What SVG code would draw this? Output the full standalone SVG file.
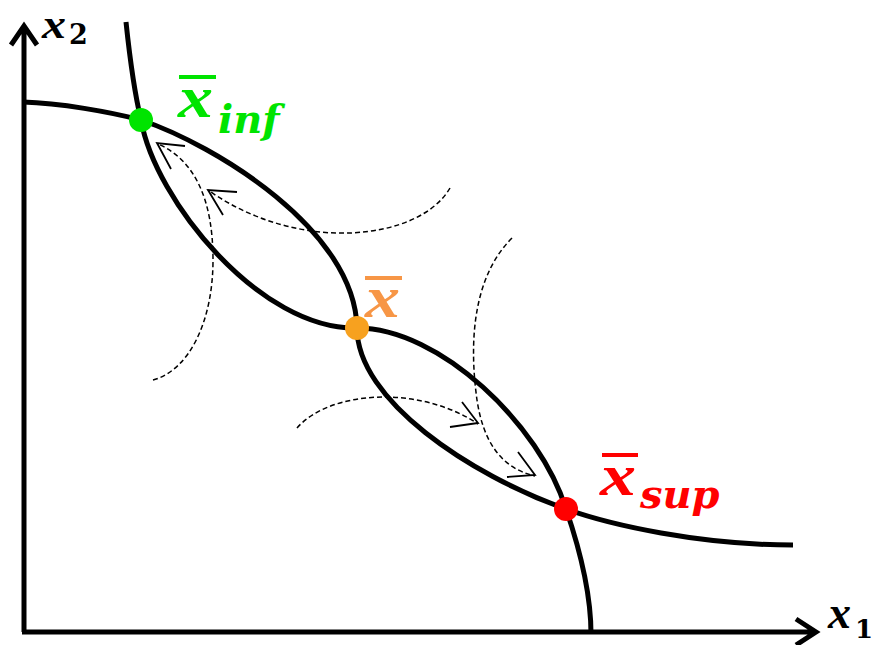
<svg xmlns="http://www.w3.org/2000/svg" width="873" height="645" viewBox="0 0 873 645">
<style>
.ax{fill:none;stroke:#000;stroke-width:5;stroke-linecap:butt;stroke-linejoin:miter}
.cv{fill:none;stroke:#000;stroke-width:5}
.ds{fill:none;stroke:#000;stroke-width:1.5;stroke-dasharray:5 3}
.ah{fill:none;stroke:#000;stroke-width:1.8}
.v{font-family:"Liberation Serif",serif;font-weight:bold;font-style:italic}
.m{font-family:"DejaVu Serif",serif;font-weight:bold;font-style:italic}
.n{font-family:"DejaVu Serif",serif;font-weight:bold}
</style>
<rect width="873" height="645" fill="#fff"/>
<g id="axes">
<path class="ax" d="M24,632 V27 M11,45 L24,26 L37,45"/>
<path class="ax" d="M22,632 H816 M796,619 L816,632 L796,645"/>
<text class="v" x="42" y="38" font-size="42" textLength="24" lengthAdjust="spacingAndGlyphs">x</text>
<text class="n" x="69" y="44" font-size="27">2</text>
<text class="v" x="828" y="628" font-size="46">x</text>
<text class="n" x="855" y="638" font-size="26">1</text>
</g>
<g id="curves">
<path class="cv" d="M126,22 C130,60 135,95 141,120 C155,200 260,330 357,328 C440,328 540,425 566,509 C578,544 591,590 591,634"/>
<path class="cv" d="M23,102 C60,103 110,112 141,120 C215,145 355,230 357,328 C357,400 470,475 566,509 C610,525 700,545 793,545"/>
</g>
<g id="connectors">
<path class="ds" d="M153,380 C190,370 213,320 213,260 C213,200 195,160 158,144"/>
<polyline class="ah" points="185,146 157,143 171,169"/>
<path class="ds" d="M450,188 C420,240 300,255 208,190"/>
<polyline class="ah" points="237,192 208,190 223,215"/>
<path class="ds" d="M512,238 C470,280 470,350 477,400 C483,440 500,468 535,476"/>
<polyline class="ah" points="518,452 535,475 507,477"/>
<path class="ds" d="M297,428 C330,390 420,385 478,424"/>
<polyline class="ah" points="462,402 478,423 450,427"/>
</g>
<g id="x-inf">
<circle cx="141" cy="120" r="12" fill="#00E400"/>
<rect x="179" y="75" width="37" height="4" fill="#00E400"/>
<text class="v" x="178" y="117" font-size="60" fill="#00E400" textLength="35" lengthAdjust="spacingAndGlyphs">x</text>
<text class="m" x="218" y="133" font-size="40" fill="#00E400">inf</text>
</g>
<g id="x-bar">
<circle cx="357" cy="328" r="12" fill="#F7A11F"/>
<rect x="365" y="276" width="37" height="4" fill="#F79646"/>
<text class="v" x="365" y="317" font-size="60" fill="#F79646" textLength="35" lengthAdjust="spacingAndGlyphs">x</text>
</g>
<g id="x-sup">
<circle cx="566" cy="509" r="12" fill="#FF0000"/>
<rect x="602" y="453" width="36" height="4" fill="#FF0000"/>
<text class="v" x="600" y="495" font-size="60" fill="#FF0000" textLength="36" lengthAdjust="spacingAndGlyphs">x</text>
<text class="m" x="640" y="508" font-size="40" fill="#FF0000">sup</text>
</g>
</svg>
